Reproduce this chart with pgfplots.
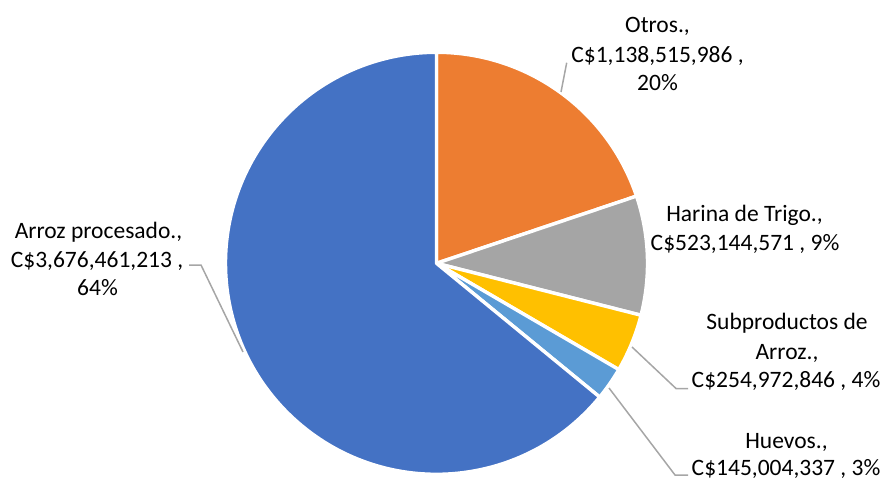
\documentclass[border=0pt]{standalone}
\usepackage{pgfplots}
\pgfplotsset{compat=1.18}
\usepackage{fontspec}
\setmainfont{Carlito}
\definecolor{cBlue}{HTML}{4472C4}
\definecolor{cOrange}{HTML}{ED7D31}
\definecolor{cGray}{HTML}{A5A5A5}
\definecolor{cYellow}{HTML}{FFC000}
\definecolor{cLight}{HTML}{5B9BD5}
\definecolor{cLead}{HTML}{A6A6A6}
\newcommand{\lab}{\fontsize{11.75}{14}\selectfont}
% values in millions of C$
\def\vA{1138.515986}% Otros
\def\vB{523.144571}% Harina de Trigo
\def\vC{254.972846}% Subproductos de Arroz
\def\vD{145.004337}% Huevos
\def\vE{3676.461213}% Arroz procesado
\pgfmathsetmacro\tot{\vA+\vB+\vC+\vD+\vE}
\pgfmathsetmacro\aA{90-\vA/\tot*360}
\pgfmathsetmacro\aB{\aA-\vB/\tot*360}
\pgfmathsetmacro\aC{\aB-\vC/\tot*360}
\pgfmathsetmacro\aD{\aC-\vD/\tot*360}
\pgfmathsetmacro\aE{\aD-\vE/\tot*360}
\begin{document}%
\begin{tikzpicture}
\begin{axis}[
  name=ax,
  width=443pt, height=240pt, scale only axis,
  xmin=0, xmax=886, ymin=0, ymax=480, y dir=reverse,
  xtick=\empty, ytick=\empty,
  hide axis, clip=false,
]
\def\R{105.5pt}
\fill[cOrange, draw=white, line width=1.7pt, line join=round] (axis cs:436.5,263.3) -- ++(90:\R) arc[start angle=90, end angle=\aA, radius=\R] -- cycle;
\fill[cGray, draw=white, line width=1.7pt, line join=round] (axis cs:436.5,263.3) -- ++(\aA:\R) arc[start angle=\aA, end angle=\aB, radius=\R] -- cycle;
\fill[cYellow, draw=white, line width=1.7pt, line join=round] (axis cs:436.5,263.3) -- ++(\aB:\R) arc[start angle=\aB, end angle=\aC, radius=\R] -- cycle;
\fill[cLight, draw=white, line width=1.7pt, line join=round] (axis cs:436.5,263.3) -- ++(\aC:\R) arc[start angle=\aC, end angle=\aD, radius=\R] -- cycle;
\fill[cBlue, draw=white, line width=1.7pt, line join=round] (axis cs:436.5,263.3) -- ++(\aD:\R) arc[start angle=\aD, end angle=\aE, radius=\R] -- cycle;
% leader lines
\draw[cLead, line width=0.75pt] (axis cs:561,92) -- (axis cs:566.7,62.7);
\draw[cLead, line width=0.75pt] (axis cs:243,352) -- (axis cs:201,265) -- (axis cs:189,265);
\draw[cLead, line width=0.75pt] (axis cs:632,347) -- (axis cs:676,388.5) -- (axis cs:688,388.5);
\draw[cLead, line width=0.75pt] (axis cs:609,388) -- (axis cs:675,475) -- (axis cs:688,475);
% labels
\begin{scope}[every node/.style={anchor=base, inner sep=0pt, font=\lab, text=black}]
\node at (axis cs:657.5,32.3) {Otros.,};
\node at (axis cs:657.5,62.7) {C\$1,138,515,986 ,};
\node at (axis cs:657.5,90.7) {20\%};
\node at (axis cs:744.5,221.7) {Harina de Trigo.,};
\node at (axis cs:745,250) {C\$523,144,571 , 9\%};
\node at (axis cs:787,329) {Subproductos de};
\node at (axis cs:787,359) {Arroz.,};
\node at (axis cs:786,387.5) {C\$254,972,846 , 4\%};
\node at (axis cs:786.5,448) {Huevos.,};
\node at (axis cs:786,475.5) {C\$145,004,337 , 3\%};
\node at (axis cs:98.5,239) {Arroz procesado.,};
\node at (axis cs:97,267.5) {C\$3,676,461,213 ,};
\node at (axis cs:97.5,295) {64\%};
\end{scope}
\end{axis}
\pgfresetboundingbox
\path (0,0) rectangle (443pt,240pt);
\end{tikzpicture}%
\end{document}
